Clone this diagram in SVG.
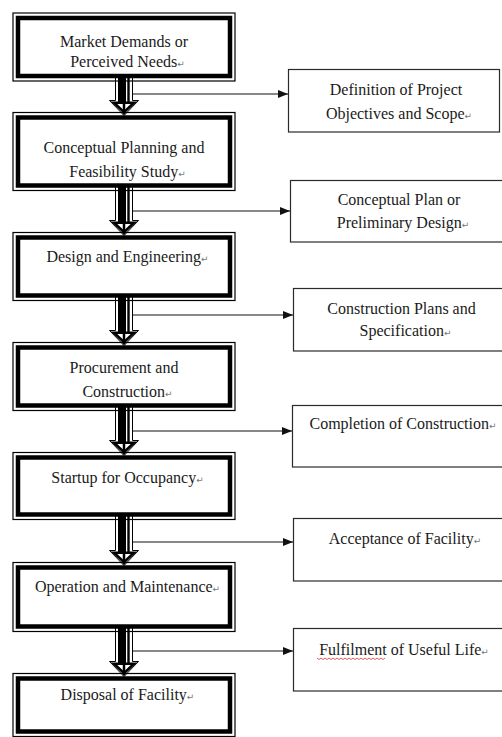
<svg xmlns="http://www.w3.org/2000/svg" xmlns:xlink="http://www.w3.org/1999/xlink" width="502" height="737" viewBox="0 0 502 737">
<style>
.thin{fill:none;stroke:#000;stroke-width:1.2}
.thick{fill:#fff;stroke:#000;stroke-width:4.5}
.rbox{fill:#fff;stroke:#2a2a2a;stroke-width:1.2}
.t{font-family:"Liberation Serif","Times New Roman",serif;font-size:16px;fill:#1a1a1a;text-anchor:middle}
.pm{font-family:"DejaVu Sans",sans-serif;font-size:9px;fill:#777}
.conn{stroke:#111;stroke-width:1.2;fill:none;marker-end:url(#ah)}
</style>
<defs>
<marker id="ah" markerUnits="userSpaceOnUse" markerWidth="10" markerHeight="8" refX="10" refY="4" orient="auto">
<path d="M0,0 L10,4 L0,8 Z" fill="#111"/>
</marker>
<g id="blk">
<path d="M-8.5,-52 L8.5,-52 L8.5,-15 L14.5,-15 L0,0 L-14.5,-15 L-8.5,-15 Z" fill="#fff" stroke="#000" stroke-width="1"/>
<rect x="-6" y="-52" width="8" height="40" fill="#000"/>
<rect x="3.3" y="-52" width="2.4" height="40" fill="#000"/>
<path d="M-10,-12.8 L10,-12.8 L0,-3.2 Z" fill="#fff" stroke="#000" stroke-width="2.6" stroke-linejoin="miter"/>
<line x1="0" y1="-13" x2="0" y2="-1" stroke="#000" stroke-width="2.5"/>
</g>
</defs>
<rect width="502" height="737" fill="#fff"/>

<g id="connectors">
<use xlink:href="#blk" href="#blk" x="124" y="115.5"/>
<use xlink:href="#blk" href="#blk" x="124" y="235.5"/>
<use xlink:href="#blk" href="#blk" x="124" y="345.5"/>
<use xlink:href="#blk" href="#blk" x="124" y="455.5"/>
<use xlink:href="#blk" href="#blk" x="124" y="565.5"/>
<use xlink:href="#blk" href="#blk" x="124" y="676.5"/>
<line class="conn" x1="133" y1="94" x2="288" y2="94"/>
<line class="conn" x1="133" y1="211" x2="290" y2="211"/>
<line class="conn" x1="133" y1="315" x2="293" y2="315"/>
<line class="conn" x1="133" y1="431" x2="292" y2="431"/>
<line class="conn" x1="133" y1="542" x2="293" y2="542"/>
<line class="conn" x1="133" y1="651" x2="293" y2="651"/>
</g>

<g id="market-demands">
<rect class="thin" x="13" y="13" width="222" height="68"/>
<rect class="thick" x="18" y="18" width="212" height="58"/>
<text class="t" x="124" y="47">Market Demands or</text>
<text class="t" x="127.5" y="67">Perceived Needs<tspan class="pm">↵</tspan></text>
</g>

<g id="conceptual-planning">
<rect class="thin" x="13" y="112.5" width="222" height="78"/>
<rect class="thick" x="18" y="117.5" width="212" height="68"/>
<text class="t" x="124" y="153">Conceptual Planning and</text>
<text class="t" x="127.5" y="177">Feasibility Study<tspan class="pm">↵</tspan></text>
</g>

<g id="design-engineering">
<rect class="thin" x="13" y="232.5" width="222" height="68"/>
<rect class="thick" x="18" y="237.5" width="212" height="58"/>
<text class="t" x="127.5" y="262">Design and Engineering<tspan class="pm">↵</tspan></text>
</g>

<g id="procurement-construction">
<rect class="thin" x="13" y="342.5" width="222" height="68"/>
<rect class="thick" x="18" y="347.5" width="212" height="58"/>
<text class="t" x="124" y="373">Procurement and</text>
<text class="t" x="127.5" y="397">Construction<tspan class="pm">↵</tspan></text>
</g>

<g id="startup-occupancy">
<rect class="thin" x="13" y="452.5" width="222" height="67"/>
<rect class="thick" x="18" y="457.5" width="212" height="57"/>
<text class="t" x="127.5" y="483">Startup for Occupancy<tspan class="pm">↵</tspan></text>
</g>

<g id="operation-maintenance">
<rect class="thin" x="13" y="562.5" width="222" height="69"/>
<rect class="thick" x="18" y="567.5" width="212" height="59"/>
<text class="t" x="127.5" y="592">Operation and Maintenance<tspan class="pm">↵</tspan></text>
</g>

<g id="disposal-facility">
<rect class="thin" x="13" y="673.5" width="222" height="63"/>
<rect class="thick" x="18" y="678.5" width="212" height="53"/>
<text class="t" x="127.5" y="700">Disposal of Facility<tspan class="pm">↵</tspan></text>
</g>

<g id="project-objectives">
<rect class="rbox" x="288.5" y="69.5" width="211" height="62.5"/>
<text class="t" x="396" y="95">Definition of Project</text>
<text class="t" x="399" y="118.5">Objectives and Scope<tspan class="pm">↵</tspan></text>
</g>

<g id="preliminary-design">
<rect class="rbox" x="290.5" y="180.5" width="215" height="61.5"/>
<text class="t" x="399" y="205">Conceptual Plan or</text>
<text class="t" x="403" y="227.5">Preliminary Design<tspan class="pm">↵</tspan></text>
</g>

<g id="construction-plans">
<rect class="rbox" x="293.5" y="288.5" width="215" height="62.5"/>
<text class="t" x="401.5" y="313.5">Construction Plans and</text>
<text class="t" x="405.5" y="336">Specification<tspan class="pm">↵</tspan></text>
</g>

<g id="completion-construction">
<rect class="rbox" x="292.5" y="405.5" width="215" height="61.5"/>
<text class="t" x="403" y="428.5">Completion of Construction<tspan class="pm">↵</tspan></text>
</g>

<g id="acceptance-facility">
<rect class="rbox" x="293.5" y="518.5" width="215" height="62.5"/>
<text class="t" x="405" y="543.5">Acceptance of Facility<tspan class="pm">↵</tspan></text>
</g>

<g id="useful-life">
<rect class="rbox" x="293.5" y="628.5" width="215" height="62.5"/>
<text class="t" x="404" y="655">Fulfilment of Useful Life<tspan class="pm">↵</tspan></text>
<path d="M317,658 l2,1.5 l2,-1.5 l2,1.5 l2,-1.5 l2,1.5 l2,-1.5 l2,1.5 l2,-1.5 l2,1.5 l2,-1.5 l2,1.5 l2,-1.5 l2,1.5 l2,-1.5 l2,1.5 l2,-1.5 l2,1.5 l2,-1.5 l2,1.5 l2,-1.5 l2,1.5 l2,-1.5 l2,1.5 l2,-1.5 l2,1.5 l2,-1.5 l2,1.5 l2,-1.5 l2,1.5 l2,-1.5 l2,1.5 l2,-1.5 l2,1.5 l2,-1.5" fill="none" stroke="#d33" stroke-width="0.8"/>
</g>
</svg>
